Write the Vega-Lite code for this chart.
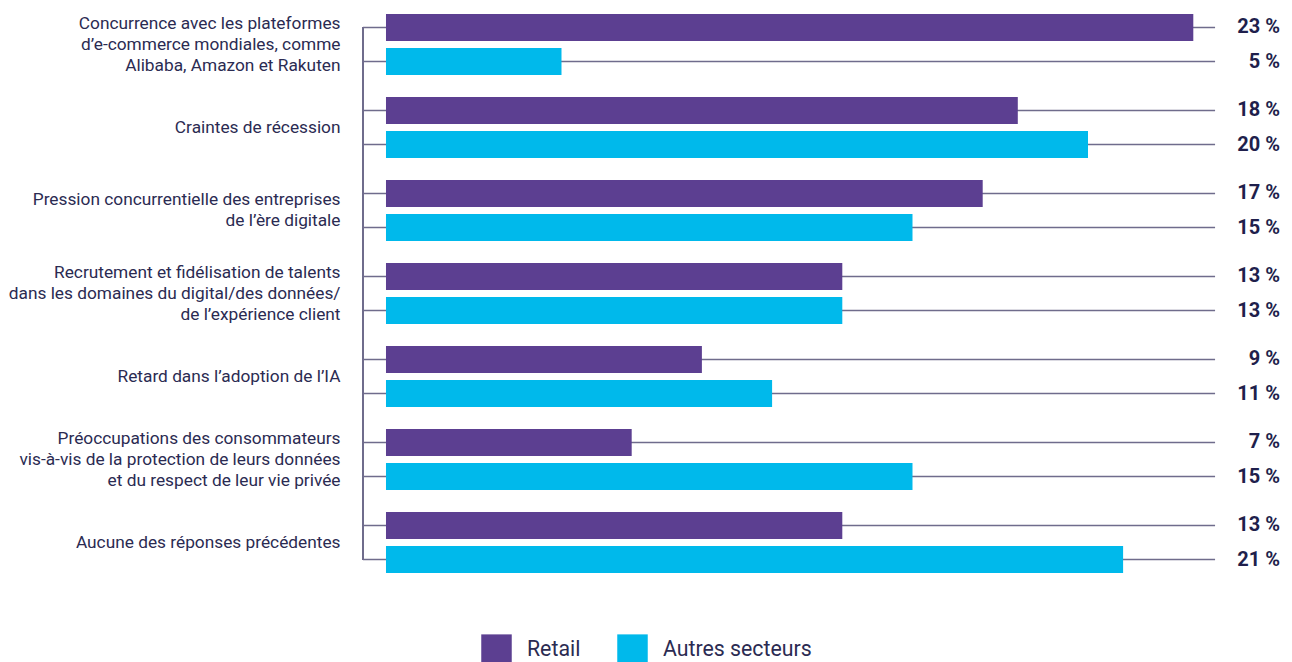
{
  "$schema": "https://vega.github.io/schema/vega-lite/v6.json",
  "width": 917,
  "height": 581,
  "autosize": "none",
  "padding": {"left": 363, "top": 3, "right": 12, "bottom": 78},
  "background": "white",
  "config": {"view": {"stroke": null}, "font": "Roboto"},
  "data": {
    "values": [
      {"cat": "Concurrence avec les plateformes|d’e-commerce mondiales, comme|Alibaba, Amazon et Rakuten", "series": "Retail", "value": 23, "label": "23 %"},
      {"cat": "Concurrence avec les plateformes|d’e-commerce mondiales, comme|Alibaba, Amazon et Rakuten", "series": "Autres secteurs", "value": 5, "label": "5 %"},
      {"cat": "Craintes de récession", "series": "Retail", "value": 18, "label": "18 %"},
      {"cat": "Craintes de récession", "series": "Autres secteurs", "value": 20, "label": "20 %"},
      {"cat": "Pression concurrentielle des entreprises|de l’ère digitale", "series": "Retail", "value": 17, "label": "17 %"},
      {"cat": "Pression concurrentielle des entreprises|de l’ère digitale", "series": "Autres secteurs", "value": 15, "label": "15 %"},
      {"cat": "Recrutement et fidélisation de talents|dans les domaines du digital/des données/|de l’expérience client", "series": "Retail", "value": 13, "label": "13 %"},
      {"cat": "Recrutement et fidélisation de talents|dans les domaines du digital/des données/|de l’expérience client", "series": "Autres secteurs", "value": 13, "label": "13 %"},
      {"cat": "Retard dans l’adoption de l’IA", "series": "Retail", "value": 9, "label": "9 %"},
      {"cat": "Retard dans l’adoption de l’IA", "series": "Autres secteurs", "value": 11, "label": "11 %"},
      {"cat": "Préoccupations des consommateurs|vis-à-vis de la protection de leurs données|et du respect de leur vie privée", "series": "Retail", "value": 7, "label": "7 %"},
      {"cat": "Préoccupations des consommateurs|vis-à-vis de la protection de leurs données|et du respect de leur vie privée", "series": "Autres secteurs", "value": 15, "label": "15 %"},
      {"cat": "Aucune des réponses précédentes", "series": "Retail", "value": 13, "label": "13 %"},
      {"cat": "Aucune des réponses précédentes", "series": "Autres secteurs", "value": 21, "label": "21 %"}
    ]
  },
  "encoding": {
    "y": {
      "field": "cat", "type": "nominal", "sort": null,
      "scale": {"paddingInner": 0, "paddingOuter": 0},
      "axis": {
        "title": null, "ticks": false, "domain": false, "labelPadding": 23,
        "labelFontSize": 17.3, "labelFont": "Roboto", "labelColor": "#2b2b52",
        "labelLineHeight": 21, "labelLimit": 400,
        "labelExpr": "split(datum.label, '|')",
        "labelOffset": {
          "condition": [
            {"test": "length(split(datum.label, '|')) == 3", "value": -21},
            {"test": "length(split(datum.label, '|')) == 2", "value": -10.5}
          ],
          "value": 0
        }
      }
    },
    "yOffset": {
      "field": "series", "type": "nominal", "sort": ["Retail", "Autres secteurs"],
      "scale": {"paddingInner": 0.206, "paddingOuter": 0.3235}
    }
  },
  "layer": [
    {
      "mark": {"type": "rule", "color": "#6f6c8c", "strokeWidth": 1.5},
      "encoding": {
        "x": {"datum": -0.655, "type": "quantitative", "scale": {"domain": [-0.655, 25.47], "nice": false, "zero": false}, "axis": null},
        "x2": {"datum": 23.62}
      }
    },
    {
      "mark": {"type": "rule", "color": "#6f6c8c", "strokeWidth": 1.5, "yOffset": -17, "y2Offset": 17},
      "encoding": {
        "x": {"datum": -0.655, "type": "quantitative"},
        "y": {"datum": "Concurrence avec les plateformes|d’e-commerce mondiales, comme|Alibaba, Amazon et Rakuten", "type": "nominal"},
        "y2": {"datum": "Aucune des réponses précédentes"},
        "yOffset": null
      }
    },
    {
      "mark": {"type": "bar", "height": 27},
      "encoding": {
        "x": {"field": "value", "type": "quantitative"},
        "x2": {"datum": 0},
        "color": {
          "field": "series", "type": "nominal",
          "scale": {"domain": ["Retail", "Autres secteurs"], "range": ["#5c3f91", "#00b9eb"]},
          "legend": {
            "title": null, "orient": "none", "direction": "horizontal",
            "legendX": 118, "legendY": 631,
            "symbolType": "square", "symbolSize": 930, "symbolStrokeWidth": 0,
            "symbolOpacity": 1,
            "labelFontSize": 21.3, "labelFont": "Roboto", "labelColor": "#2b2b52",
            "labelOffset": 15, "columnPadding": 36
          }
        }
      }
    },
    {
      "mark": {"type": "text", "align": "right", "baseline": "middle", "fontWeight": "bold", "fontSize": 20, "font": "Roboto", "color": "#1f1f4c"},
      "encoding": {
        "x": {"datum": 25.47, "type": "quantitative"},
        "text": {"field": "label"}
      }
    }
  ]
}
